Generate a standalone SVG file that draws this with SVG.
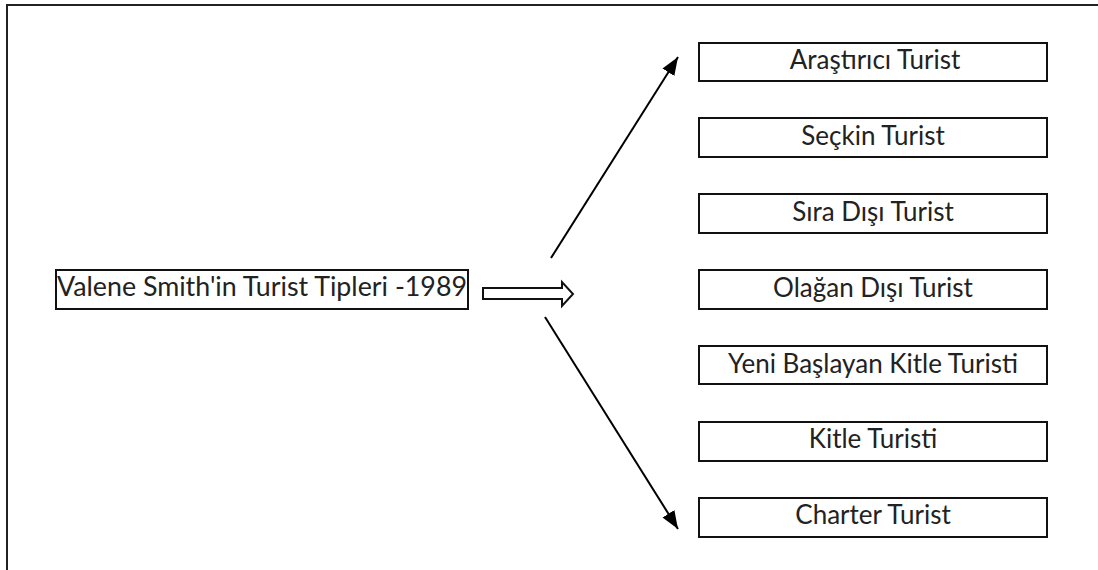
<svg xmlns="http://www.w3.org/2000/svg" width="1098" height="570" viewBox="0 0 1098 570">
  <style>
    .box { fill: #ffffff; stroke: #111111; stroke-width: 2; }
    .lbl { font-family: Lato, "Liberation Sans", sans-serif; font-size: 26px; fill: #222222; text-anchor: middle; }
    .conn { stroke: #000000; stroke-width: 2; fill: none; }
    .frame { stroke: #222222; stroke-width: 2; fill: none; }
  </style>
  <defs>
    <marker id="ah" markerUnits="userSpaceOnUse" markerWidth="20" markerHeight="16" refX="18" refY="8" orient="auto">
      <path d="M0,1 L18,8 L0,15 Z" fill="#000000"/>
    </marker>
  </defs>
  <rect width="1098" height="570" fill="#ffffff"/>
  <g id="frame">
    <path class="frame" d="M7,570 L7,5 L1098,5"/>
  </g>
  <g id="connectors">
    <line class="conn" x1="551" y1="258" x2="678" y2="57" marker-end="url(#ah)"/>
    <line class="conn" x1="545" y1="317" x2="678" y2="529" marker-end="url(#ah)"/>
    <polygon class="box" points="483,288 562,288 562,282 573,294 562,306 562,299 483,299"/>
  </g>
  <g id="main">
    <rect class="box" x="56" y="270" width="412" height="39"/>
    <text x="57" y="296" font-family="Lato, 'Liberation Sans', sans-serif" font-size="26" fill="#222222" textLength="410" lengthAdjust="spacingAndGlyphs">Valene Smith'in Turist Tipleri -1989</text>
  </g>
  <g id="n1">
    <rect class="box" x="699" y="43" width="348" height="38"/>
    <text class="lbl" x="875" y="69">Araştırıcı Turist</text>
  </g>
  <g id="n2">
    <rect class="box" x="699" y="118" width="348" height="39"/>
    <text class="lbl" x="873" y="145">Seçkin Turist</text>
  </g>
  <g id="n3">
    <rect class="box" x="699" y="194" width="348" height="39"/>
    <text class="lbl" x="873" y="221">Sıra Dışı Turist</text>
  </g>
  <g id="n4">
    <rect class="box" x="699" y="270" width="348" height="39"/>
    <text class="lbl" x="873" y="297">Olağan Dışı Turist</text>
  </g>
  <g id="n5">
    <rect class="box" x="699" y="346" width="348" height="38"/>
    <text class="lbl" x="873" y="373">Yeni Başlayan Kitle Turisti</text>
  </g>
  <g id="n6">
    <rect class="box" x="699" y="422" width="348" height="39"/>
    <text class="lbl" x="873" y="448">Kitle Turisti</text>
  </g>
  <g id="n7">
    <rect class="box" x="699" y="498" width="348" height="39"/>
    <text class="lbl" x="873" y="524">Charter Turist</text>
  </g>
</svg>
